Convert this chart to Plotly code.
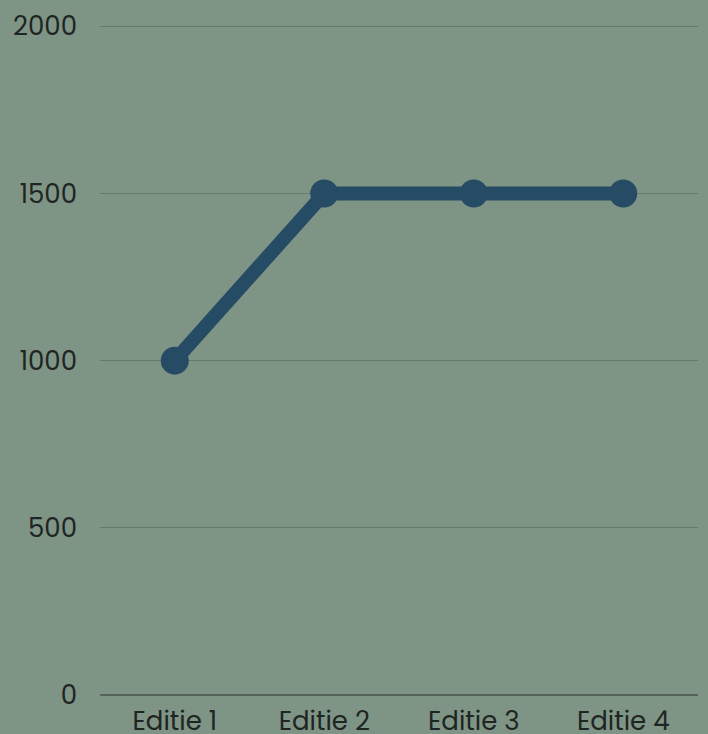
import plotly.graph_objects as go

categories = ["Editie 1", "Editie 2", "Editie 3", "Editie 4"]
values = [1000, 1500, 1500, 1500]
y_ticks = [0, 500, 1000, 1500, 2000]

fig = go.Figure(go.Scatter(
    x=categories, y=values, mode="lines+markers",
    line=dict(color="#264b65", width=14),
    marker=dict(color="#264b65", size=28),
    cliponaxis=False,
))

font_family = "Poppins, Inter, Lato, sans-serif"
fig.update_layout(
    width=708, height=734,
    margin=dict(l=100, r=10, t=23, b=39),
    paper_bgcolor="#7e9484", plot_bgcolor="#7e9484",
    showlegend=False,
    font=dict(family=font_family, size=26, color="#1f2523"),
)
fig.update_xaxes(range=[-0.5, 3.5], showgrid=False, showline=False, zeroline=False,
                 ticks="", ticklabelstandoff=8, tickfont=dict(size=26), automargin=False)
fig.update_yaxes(range=[0, 2010], tickvals=y_ticks, showgrid=True, gridcolor="#66796b",
                 gridwidth=1, zeroline=True, zerolinecolor="#56635a", zerolinewidth=2,
                 ticks="", ticklabelstandoff=22, tickfont=dict(size=26), automargin=False)

fig.write_html("out.html", config={"displayModeBar": False},
               post_script="document.body.style.margin='0';")
